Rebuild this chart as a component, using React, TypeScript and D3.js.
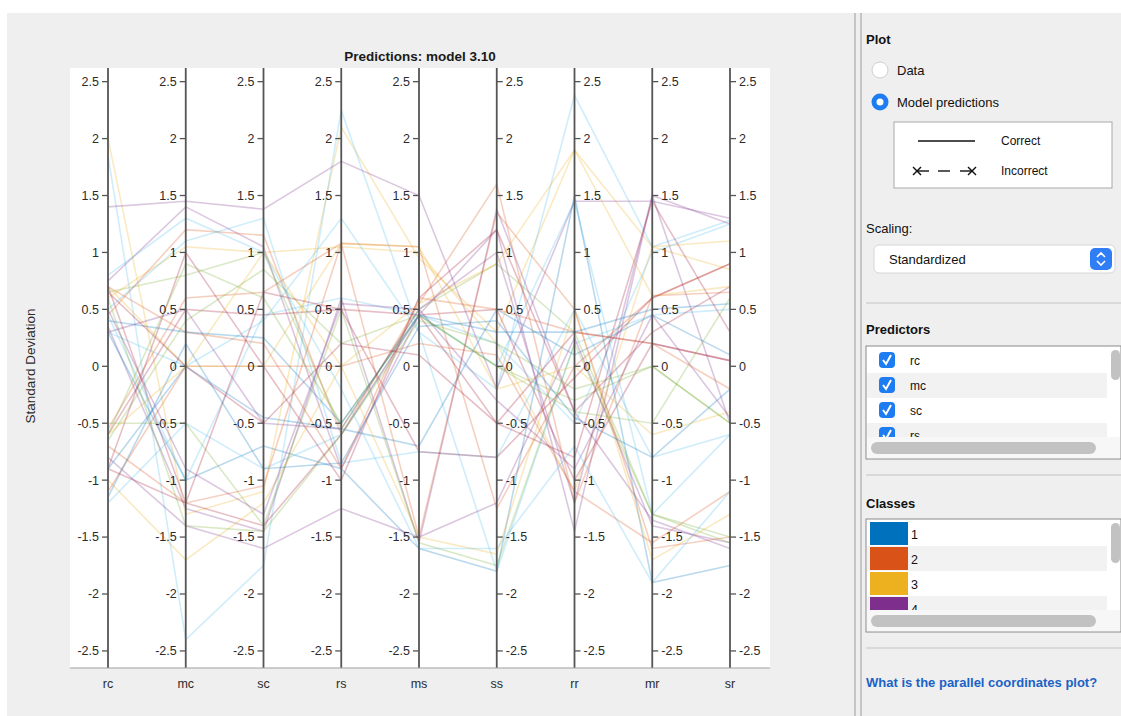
import React from "react";
import * as d3 from "d3";

const predictors = ["rc", "mc", "sc", "rs", "ms", "ss", "rr", "mr", "sr"];
const yTicks = [-2.5, -2, -1.5, -1, -0.5, 0, 0.5, 1, 1.5, 2, 2.5];
const classColors = ["#0072BD", "#D95319", "#EDB120", "#7E2F8E", "#77AC30", "#4DBEEE", "#A2142F"];
const classLabels = ["1", "2", "3", "4"];
const predictorList = ["rc", "mc", "sc", "rs"];

// class index for each observation line
const lineClass = [2, 5, 3, 3, 6, 4, 2, 5, 1, 3, 5, 0, 1, 6, 4, 3, 0, 2, 1, 5, 6, 4, 3, 2, 5, 1, 4, 0, 6, 3, 2, 5, 4, 1, 0, 6];
// predicted standardized values [rc, mc, sc, rs, ms, ss, rr, mr, sr]
const lineValues = [
  [2.0, -1.3, -1.1, 2.1, 0.95, 0.3, 1.9, 1.05, 0.85],
  [1.85, -2.4, -1.75, 2.25, 0.3, -0.2, 2.38, 1.05, 1.28],
  [1.4, 1.45, 1.38, 1.8, 1.5, -0.2, 1.45, 1.45, 1.3],
  [0.75, 1.4, 1.05, -0.9, 0.45, 1.2, -1.45, 1.5, -0.5],
  [0.7, -1.2, -1.4, -0.6, 0.45, 0.5, -1.0, 0.2, 0.05],
  [0.65, 0.8, 1.0, -0.55, 0.5, 0.9, 0.3, -1.3, -1.5],
  [0.6, 1.05, 1.0, 1.05, 1.0, 0.2, -1.1, 1.05, 1.1],
  [0.5, 1.1, 1.3, -0.85, -0.75, -0.8, 0.5, -0.8, -0.6],
  [0.45, 1.2, 1.15, -0.6, 0.55, 1.6, -1.2, 0.62, 0.65],
  [0.35, -1.25, -1.45, 0.6, -1.55, 1.38, -0.4, -1.35, -1.6],
  [0.3, 0.0, 0.4, 1.3, 0.3, -1.8, 0.2, 0.45, 0.5],
  [0.3, -1.0, -0.7, -0.9, -1.6, -1.8, 1.5, -1.9, -1.75],
  [-0.55, 0.6, 0.65, 1.08, 1.05, -1.25, 0.0, 0.6, 0.9],
  [-0.6, 0.5, 0.45, 0.5, 0.45, -0.5, 0.3, 0.2, 0.05],
  [-0.65, 0.4, 0.85, 0.2, 0.45, 0.0, -0.3, 0.0, -0.5],
  [-0.8, -1.4, -1.6, -1.25, -1.5, -1.2, 0.25, -1.4, -1.55],
  [-0.9, 0.0, -0.45, -0.55, -0.7, 0.5, 0.1, 0.45, 0.1],
  [-1.0, -1.7, -1.2, 0.0, -1.5, -1.65, 0.5, -1.7, -1.3],
  [-1.1, 0.0, 0.0, 0.0, 0.2, 0.1, -1.1, -1.55, -1.1],
  [-1.2, -0.5, -0.9, -0.6, 0.45, 0.0, 1.45, -1.3, -0.6],
  [-0.9, 1.0, 0.0, -1.0, 0.6, 1.2, -0.4, 0.3, 0.7],
  [-0.5, -0.5, -1.4, 0.5, -1.55, -1.75, 0.2, -1.3, -1.55],
  [0.3, 0.5, -0.5, -0.55, 0.5, 1.0, -1.2, 1.5, 1.25],
  [0.7, 0.0, 1.0, 0.0, 0.55, 0.9, 1.9, 0.62, 0.7],
  [0.45, -1.0, 0.45, 0.6, 0.45, 0.2, -0.5, 1.0, 1.25],
  [-0.7, -1.2, -1.05, 1.08, -1.5, 1.35, 0.5, -1.6, -1.5],
  [0.6, -1.4, -1.45, -0.6, 0.4, 0.2, -0.2, 0.0, -0.5],
  [-1.15, 0.2, -0.9, -0.85, 0.35, 0.4, -0.45, -0.8, -0.2],
  [-0.9, -1.2, 0.65, 0.5, -0.75, -0.8, -0.1, 0.6, 0.9],
  [0.5, -0.9, -1.3, 0.55, 0.5, -0.3, -0.9, 0.45, -0.45],
  [-0.6, 0.0, 0.0, 1.08, 1.05, -0.2, 0.0, -0.6, -0.4],
  [0.8, 1.3, 1.0, -0.2, -1.6, -1.6, -0.7, -1.9, -1.1],
  [-0.6, 0.9, 0.6, -0.5, 0.45, 0.0, -0.4, -0.5, 0.6],
  [0.7, 0.3, 0.2, -0.9, 0.6, 0.5, 0.3, 0.2, -0.2],
  [0.4, 0.3, 0.25, -0.5, 0.45, 0.3, 0.3, 0.5, 0.55],
  [0.65, 0.0, -0.5, 0.2, 0.1, -0.5, -0.8, 1.45, 0.3],
];

const FONT = "'Liberation Sans', Arial, Helvetica, sans-serif";

export default function App() {
  const plot = { left: 70, right: 770, top: 68, bottom: 668 };
  const x = d3.scalePoint<string>().domain(predictors).range([108, 730]);
  const y = d3.scaleLinear().domain([-2.65, 2.62]).range([plot.bottom, plot.top]);
  const line = d3
    .line<number>()
    .x((_, i) => x(predictors[i]) as number)
    .y((d) => y(d));

  const axisColor = "#555555";
  const textColor = "#2b2b2b";

  return (
    <div style={{ position: "absolute", left: 0, top: 0 }}>
      <svg width={1121} height={716} style={{ display: "block", fontFamily: FONT }}>
        <rect x={0} y={0} width={1121} height={716} fill="#ffffff" />
        <rect x={7} y={13} width={1114} height={703} fill="#efefef" />
        <rect x={plot.left} y={plot.top} width={plot.right - plot.left} height={plot.bottom - plot.top} fill="#ffffff" />

        {/* data lines */}
        <g fill="none" strokeWidth={1.6} strokeOpacity={0.27}>
          {lineValues.map((vals, i) => (
            <path key={i} d={line(vals) || ""} stroke={classColors[lineClass[i]]} />
          ))}
        </g>

        {/* axes */}
        {predictors.map((p, ai) => {
          const ax = x(p) as number;
          const right = ai >= 5;
          return (
            <g key={p}>
              <line x1={ax} x2={ax} y1={plot.top} y2={plot.bottom} stroke={axisColor} strokeWidth={1.8} />
              {yTicks.map((t) => (
                <g key={t}>
                  <line
                    x1={ax}
                    x2={right ? ax + 6 : ax - 6}
                    y1={y(t)}
                    y2={y(t)}
                    stroke={axisColor}
                    strokeWidth={1.3}
                  />
                  <text
                    x={right ? ax + 9 : ax - 9}
                    y={y(t)}
                    dy="0.35em"
                    textAnchor={right ? "start" : "end"}
                    fontSize={12.5}
                    fill={textColor}
                  >
                    {t}
                  </text>
                </g>
              ))}
              <text x={ax} y={688} textAnchor="middle" fontSize={12.5} fill={textColor}>
                {p}
              </text>
            </g>
          );
        })}
        <line x1={plot.left} x2={plot.right} y1={plot.bottom} y2={plot.bottom} stroke="#a0a0a0" strokeWidth={1.2} />

        <text x={420} y={61} textAnchor="middle" fontSize={13.5} fontWeight="bold" fill="#1a1a1a">
          Predictions: model 3.10
        </text>
        <text
          transform="translate(35,366) rotate(-90)"
          textAnchor="middle"
          fontSize={13.5}
          fill={textColor}
        >
          Standard Deviation
        </text>

        {/* separator */}
        <line x1={855} x2={855} y1={13} y2={716} stroke="#a8a8a8" strokeWidth={1.2} />
        <line x1={861} x2={861} y1={13} y2={716} stroke="#a8a8a8" strokeWidth={1.2} />

        {/* right panel */}
        <text x={866} y={44} fontSize={13} fontWeight="bold" fill="#111">Plot</text>
        <circle cx={880} cy={70} r={8} fill="#ffffff" stroke="#d0d0d0" />
        <text x={897} y={75} fontSize={13} fill="#111">Data</text>
        <circle cx={880} cy={102} r={8.5} fill="#1d7cf2" />
        <circle cx={880} cy={102} r={3.5} fill="#ffffff" />
        <text x={897} y={107} fontSize={13} fill="#111">Model predictions</text>

        <rect x={894} y={122} width={218} height={66} fill="#ffffff" stroke="#a9a9a9" />
        <line x1={918} x2={975} y1={141} y2={141} stroke="#111" strokeWidth={1.6} />
        <text x={1001} y={145} fontSize={12} fill="#111">Correct</text>
        <g stroke="#111" strokeWidth={1.4}>
          <line x1={913} x2={921} y1={167} y2={175} />
          <line x1={913} x2={921} y1={175} y2={167} />
          <line x1={917} x2={929} y1={171} y2={171} />
          <line x1={938} x2={950} y1={171} y2={171} />
          <line x1={960} x2={972} y1={171} y2={171} />
          <line x1={968} x2={976} y1={167} y2={175} />
          <line x1={968} x2={976} y1={175} y2={167} />
        </g>
        <text x={1001} y={175} fontSize={12} fill="#111">Incorrect</text>

        <text x={866} y={233} fontSize={13} fill="#111">Scaling:</text>
        <rect x={874} y={245} width={241} height={28} rx={5} fill="#ffffff" stroke="#d6d6d6" />
        <text x={889} y={264} fontSize={13} fill="#111">Standardized</text>
        <rect x={1090} y={248} width={22} height={22} rx={5} fill="#2f7ef6" />
        <path d="M1097,257 L1101,253 L1105,257 M1097,261 L1101,265 L1105,261" stroke="#fff" strokeWidth={1.6} fill="none" />

        <line x1={866} x2={1121} y1={303} y2={303} stroke="#d2d2d2" strokeWidth={1.5} />

        <text x={866} y={334} fontSize={13} fontWeight="bold" fill="#111">Predictors</text>
        <rect x={866} y={346} width={255} height={113} fill="#ffffff" stroke="#8a8a8a" />
        <clipPath id="predClip">
          <rect x={867} y={347} width={240} height={90} />
        </clipPath>
        <g clipPath="url(#predClip)">
          {predictorList.map((p, i) => (
            <g key={p}>
              <rect x={867} y={348 + i * 25} width={240} height={25} fill={i % 2 ? "#f2f2f2" : "#ffffff"} />
              <rect x={879} y={352 + i * 25} width={16} height={16} rx={4} fill="#1d7cf2" />
              <path
                d={`M883,${360 + i * 25} L886,${364 + i * 25} L891,${355 + i * 25}`}
                stroke="#fff"
                strokeWidth={2}
                fill="none"
              />
              <text x={910} y={365 + i * 25} fontSize={12} fill="#111">{p}</text>
            </g>
          ))}
        </g>
        <rect x={867} y={437} width={253} height={21} fill="#f7f7f7" />
        <rect x={871} y={442} width={225} height={12} rx={6} fill="#c2c2c2" />
        <rect x={1111} y={350} width={9} height={30} rx={4.5} fill="#c2c2c2" />

        <line x1={866} x2={1121} y1={475} y2={475} stroke="#d2d2d2" strokeWidth={1.5} />

        <text x={866} y={508} fontSize={13} fontWeight="bold" fill="#111">Classes</text>
        <rect x={866} y={519} width={255} height={113} fill="#ffffff" stroke="#8a8a8a" />
        <clipPath id="classClip">
          <rect x={867} y={520} width={240} height={90} />
        </clipPath>
        <g clipPath="url(#classClip)">
          {classLabels.map((c, i) => (
            <g key={c}>
              <rect x={867} y={521 + i * 25} width={240} height={25} fill={i % 2 ? "#f2f2f2" : "#ffffff"} />
              <rect x={870} y={522 + i * 25} width={38} height={23} fill={classColors[i]} />
              <text x={911} y={539 + i * 25} fontSize={12.5} fill="#111">{c}</text>
            </g>
          ))}
        </g>
        <rect x={867} y={610} width={253} height={21} fill="#f7f7f7" />
        <rect x={871} y={615} width={225} height={12} rx={6} fill="#c2c2c2" />
        <rect x={1111} y={523} width={9} height={40} rx={4.5} fill="#c2c2c2" />

        <line x1={866} x2={1121} y1={648} y2={648} stroke="#d2d2d2" strokeWidth={1.5} />
        <text x={866} y={687} fontSize={13} fontWeight="bold" fill="#1a62c6">
          What is the parallel coordinates plot?
        </text>
      </svg>
    </div>
  );
}
